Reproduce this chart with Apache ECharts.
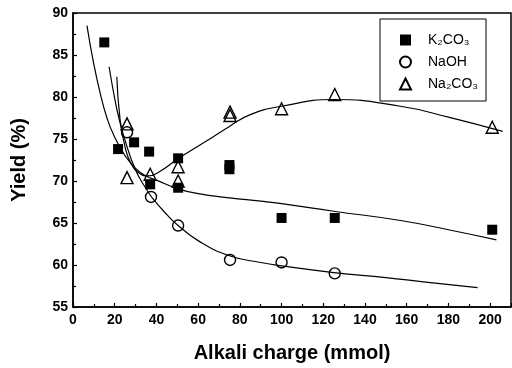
<!DOCTYPE html>
<html>
<head>
<meta charset="utf-8">
<script src="https://cdn.jsdelivr.net/npm/echarts@6/dist/echarts.min.js"></script>
<style>
  html, body { margin: 0; padding: 0; background: #fff; }
  #chart { width: 512px; height: 368px; }
</style>
</head>
<body>
<div id="chart"></div>
<script>
// measured points [alkali mmol, yield %]
var k2co3Pts = [[15, 86.5], [21.6, 73.8], [29.3, 74.6], [36.5, 73.5], [37, 69.6], [50.4, 72.7],
  [50.4, 69.2], [75, 71.9], [75, 71.4], [100, 65.6], [125.5, 65.6], [201, 64.2]];
var naohPts = [[25.9, 75.8], [37.4, 68.1], [50.4, 64.7], [75.3, 60.6], [100, 60.3], [125.5, 59.0]];
var na2co3Pts = [[25.9, 76.8], [25.9, 70.4], [37, 70.8], [50.4, 71.7], [50.4, 70.0],
  [75.3, 78.2], [75.3, 77.8], [100, 78.6], [125.5, 80.3], [201, 76.4]];

// fitted curves
var k2co3Fit = [[6.7, 88.5], [9.6, 84.4], [13, 80.5], [16.3, 77.5], [20, 75.2], [25, 73], [30, 71.5],
  [35, 70.6], [40, 70.1], [50, 69.1], [60, 68.5], [75, 68], [90, 67.6], [100, 67.3], [125, 66.4],
  [157, 65.3], [180, 64.2], [203, 63.0]];
var naohFit = [[17.3, 83.6], [20, 79.8], [22, 77.5], [25, 74.8], [30, 71.3], [35, 69.1], [38, 68],
  [45, 66], [50, 64.8], [60, 62.9], [75, 61.1], [90, 60.3], [100, 59.9], [125, 59.1], [150, 58.5],
  [168, 58.0], [194, 57.3]];
var na2co3Fit = [[21, 82.4], [22.5, 77.5], [25, 74], [28, 72], [32, 70.9], [36, 70.6], [42, 71.2],
  [50, 72.6], [63, 74.6], [75, 76.5], [85, 77.9], [100, 78.9], [125, 79.7], [157, 78.9],
  [180, 77.6], [206, 75.9]];

var legendNames = {'K2CO3': 'K₂CO₃', 'NaOH': 'NaOH', 'Na2CO3': 'Na₂CO₃'};

var chart = echarts.init(document.getElementById('chart'));

var axisText = {color: '#000', fontFamily: 'Liberation Sans', fontWeight: 'bold', fontSize: 14};
var titleText = {color: '#000', fontFamily: 'Liberation Sans', fontWeight: 'bold', fontSize: 20};

function fitLine(data) {
  return {
    type: 'line',
    data: data,
    smooth: true,
    symbol: 'none',
    silent: true,
    z: 2,
    lineStyle: {color: '#000', width: 1.2}
  };
}

var option = {
  animation: false,
  backgroundColor: '#fff',
  grid: {
    left: 73, right: 1, top: 13, bottom: 60,
    show: true,
    borderColor: '#000',
    borderWidth: 1.5
  },
  legend: {
    orient: 'vertical',
    left: 380,
    top: 19,
    padding: [14, 8, 10, 19],
    borderColor: '#000',
    borderWidth: 1,
    itemWidth: 11,
    itemHeight: 11,
    itemGap: 8,
    data: ['K2CO3', 'NaOH', 'Na2CO3'],
    formatter: function (name) { return legendNames[name]; },
    textStyle: {
      color: '#000', fontFamily: 'Liberation Sans', fontSize: 14,
      padding: [0, 0, 0, 12], lineHeight: 14
    }
  },
  xAxis: {
    type: 'value',
    min: 0,
    max: 210,
    interval: 20,
    name: 'Alkali charge (mmol)',
    nameLocation: 'middle',
    nameGap: 36,
    nameTextStyle: titleText,
    axisLine: {lineStyle: {color: '#000', width: 1.5}},
    axisTick: {inside: true, length: 4, lineStyle: {color: '#000', width: 1.2}},
    minorTick: {show: true, splitNumber: 2, length: 3, lineStyle: {color: '#000', width: 1.2}},
    axisLabel: Object.assign({margin: 6, showMaxLabel: false,
      formatter: function (v) { return v % 20 === 0 ? v : ''; }}, axisText),
    splitLine: {show: false}
  },
  yAxis: {
    type: 'value',
    min: 55,
    max: 90,
    interval: 5,
    name: 'Yield (%)',
    nameLocation: 'middle',
    nameRotate: 90,
    nameGap: 44,
    nameTextStyle: titleText,
    axisLine: {show: true, lineStyle: {color: '#000', width: 1.5}},
    axisTick: {show: true, inside: true, length: 4, lineStyle: {color: '#000', width: 1.2}},
    minorTick: {show: true, splitNumber: 2, length: 3, lineStyle: {color: '#000', width: 1.2}},
    axisLabel: Object.assign({margin: 5}, axisText),
    splitLine: {show: false}
  },
  series: [
    fitLine(k2co3Fit),
    fitLine(naohFit),
    fitLine(na2co3Fit),
    {
      name: 'K2CO3',
      type: 'scatter',
      data: k2co3Pts,
      symbol: 'rect',
      symbolSize: 10,
      z: 5,
      itemStyle: {color: '#000', opacity: 1}
    },
    {
      name: 'NaOH',
      type: 'scatter',
      data: naohPts,
      symbol: 'circle',
      symbolSize: 11,
      z: 5,
      itemStyle: {color: 'transparent', borderColor: '#000', borderWidth: 1.4, opacity: 1}
    },
    {
      name: 'Na2CO3',
      type: 'scatter',
      data: na2co3Pts,
      symbol: 'triangle',
      symbolSize: 12,
      z: 5,
      itemStyle: {color: 'transparent', borderColor: '#000', borderWidth: 1.4, opacity: 1}
    }
  ]
};

chart.setOption(option);
</script>
</body>
</html>
